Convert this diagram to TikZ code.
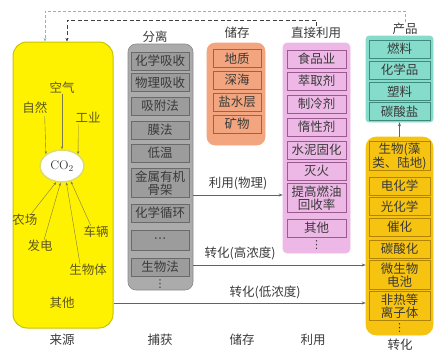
\documentclass[tikz,border=0pt]{standalone}
\usepackage{fontspec}
\setmainfont{Noto Sans CJK SC}
\newfontfamily\symfont{DejaVu Sans}
\usetikzlibrary{arrows.meta,shapes.geometric}
\definecolor{yfill}{HTML}{FFF200}
\definecolor{yline}{HTML}{C9C300}
\definecolor{gfill}{HTML}{ABABAB}
\definecolor{gitemc}{HTML}{9C9C9C}
\definecolor{gline}{HTML}{6A6A6A}
\definecolor{ofill}{HTML}{F2A57E}
\definecolor{oline}{HTML}{A8603A}
\definecolor{pfill}{HTML}{EDB8E6}
\definecolor{pline}{HTML}{9A5A90}
\definecolor{tfill}{HTML}{86DCCB}
\definecolor{tline}{HTML}{3E8A7C}
\definecolor{ufill}{HTML}{F6C310}
\definecolor{uline}{HTML}{B08400}
\definecolor{txt}{HTML}{3A3A3A}
\definecolor{olive}{HTML}{5E5820}
\definecolor{arr}{HTML}{55667A}
\definecolor{gdash}{HTML}{7CC49A}
\begin{document}
\begin{tikzpicture}[x=1pt,y=-1pt,
  font=\fontsize{12.5}{13}\selectfont,
  every node/.style={inner sep=0pt, text=txt},
  bigbox/.style={rounded corners=8pt, line width=0.6pt},
  item/.style={draw, line width=0.7pt, minimum height=18pt, align=center},
  gitem/.style={item, fill=gitemc, draw=gline, minimum width=58pt},
  oitem/.style={item, fill=ofill, draw=oline, minimum width=48pt},
  pitem/.style={item, fill=pfill, draw=pline, minimum width=59pt},
  titem/.style={item, fill=tfill, draw=tline, minimum width=61pt},
  uitem/.style={item, fill=ufill, draw=uline, minimum width=61pt},
  twoline/.style={minimum height=29pt, font=\fontsize{12.5}{12.5}\selectfont},
  dotsnode/.style={font=\symfont\fontsize{11}{11}\selectfont},
  src/.style={text=olive},
  srcarrow/.style={draw=olive!80, line width=0.4pt, -{Stealth[length=3pt,width=2.4pt]}},
  flow/.style={draw=arr, line width=0.6pt, -{Stealth[length=4pt,width=3pt]}},
  lab/.style={text=txt}
]
\useasboundingbox (0,0) rectangle (437,351);
% big boxes
\node[bigbox, rounded corners=14pt, fill=yfill, draw=yline, line width=1pt, minimum width=100pt, minimum height=286pt] (ybox) at (63,185) {};
\node[bigbox, fill=gfill, draw=gfill!80!black, minimum width=65pt, minimum height=246pt] (gbox) at (160.5,167) {};
\node[bigbox, fill=ofill, draw=ofill, minimum width=58pt, minimum height=102pt] (obox) at (236,94) {};
\node[bigbox, rounded corners=4pt, fill=pfill, draw=pfill, minimum width=67pt, minimum height=210pt] (pbox) at (316.5,148) {};
\node[bigbox, rounded corners=3pt, fill=tfill, draw=tfill, minimum width=67pt, minimum height=86pt] (tbox) at (399.5,79) {};
\node[bigbox, rounded corners=10pt, fill=ufill, draw=ufill, minimum width=67pt, minimum height=198pt] (ubox) at (399.5,236) {};
% titles
\node (tsep) at (155,37) {分离};
\node (tsto) at (237,33) {储存};
\node (tdir) at (316,33) {直接利用};
\node (tpro) at (405,29) {产品};
% gray items
\node[gitem] (g1) at (160,61) {化学吸收};
\node[gitem] (g2) at (160,82.5) {物理吸收};
\node[gitem] (g3) at (160,106) {吸附法};
\node[gitem] (g4) at (160,130) {膜法};
\node[gitem] (g5) at (160,153) {低温};
\node[gitem, twoline] (g6) at (160,183) {金属有机\\骨架};
\node[gitem] (g7) at (160,213) {化学循环};
\node[gitem, minimum height=20pt] (g8) at (160,240) {{\symfont ⋯}};
\node[gitem] (g9) at (160,267) {生物法};
\node[dotsnode] (gdots) at (160,284.5) {⋮};
% orange items
\node[oitem] (o1) at (237,58.5) {地质};
\node[oitem] (o2) at (237,80) {深海};
\node[oitem] (o3) at (237,102) {盐水层};
\node[oitem] (o4) at (237,124) {矿物};
% pink items
\node[pitem] (p1) at (316.5,59) {食品业};
\node[pitem] (p2) at (316.5,81) {萃取剂};
\node[pitem] (p3) at (316.5,104) {制冷剂};
\node[pitem] (p4) at (316.5,127) {惰性剂};
\node[pitem] (p5) at (316.5,150) {水泥固化};
\node[pitem] (p6) at (316.5,171) {灭火};
\node[pitem, twoline] (p7) at (316.5,198) {提高燃油\\回收率};
\node[pitem] (p8) at (316.5,228) {其他};
\node[dotsnode] (pdots) at (316.5,245) {⋮};
% teal items
\node[titem] (t1) at (399.5,49) {燃料};
\node[titem] (t2) at (399.5,70) {化学品};
\node[titem] (t3) at (399.5,91.5) {塑料};
\node[titem] (t4) at (399.5,111.5) {碳酸盐};
% gold items
\node[uitem, twoline] (u1) at (399.5,156) {生物(藻\\类、陆地)};
\node[uitem] (u2) at (399.5,186) {电化学};
\node[uitem] (u3) at (399.5,206.5) {光化学};
\node[uitem] (u4) at (399.5,227) {催化};
\node[uitem] (u5) at (399.5,249) {碳酸化};
\node[uitem, twoline] (u6) at (399.5,275) {微生物\\电池};
\node[uitem, twoline] (u7) at (399.5,306) {非热等\\离子体};
\node[dotsnode] (udots) at (399.5,328) {⋮};
\draw[flow] (ubox.north -| u1) -- (tbox.south -| t4);
% source box content
\node[draw=yline!60!white, line width=1.5pt, fill=white, ellipse, minimum width=44pt, minimum height=32pt] (co2) at (62,166) {\fontspec{Latin Modern Roman}CO$_2$};
\node[src] (air) at (62,88) {空气};
\node[src] (nat) at (35,108) {自然};
\node[src] (ind) at (88,117) {工业};
\node[src] (farm) at (25,220) {农场};
\node[src] (pow) at (40,246) {发电};
\node[src] (veh) at (96,232) {车辆};
\node[src] (bio) at (88,270) {生物体};
\node[src] (oth) at (62,303) {其他};
\draw[srcarrow] (air.south) -- (co2.north);
\draw[srcarrow] (nat.south east) ++(-3,2) -- (co2.north west);
\draw[srcarrow] (ind.south west) ++(3,2) -- (co2.north east);
\draw[srcarrow] (farm.north) ++(6,0) -- (co2.250);
\draw[srcarrow] (pow.north) ++(4,0) -- (co2.265);
\draw[srcarrow] (bio.north) ++(-8,0) -- (co2.285);
\draw[srcarrow] (veh.north) ++(-5,0) -- (co2.300);
% flows
\draw[flow] (gbox.east |- 0,195) -- node[above=5pt, lab] (lphy) {利用(物理)} (pbox.west |- 0,195);
\draw[flow] (gbox.east |- 0,265) -- (ubox.west |- 0,265);
\node[lab] (lhigh) at (240,253) {转化(高浓度)};
\draw[flow] (ybox.east |- 0,303) -- (ubox.west |- 0,303);
\node[lab] (llow) at (265,292) {转化(低浓度)};
% feedback dashed
\draw[black!75, line width=0.7pt, dash pattern=on 4pt off 2.5pt, -{Stealth[length=3.5pt,width=3pt]}] (tdir.north) ++(0,-1) |- (67,20) -- (ybox.north -| 67,0);
\draw[gdash, line width=0.8pt, dash pattern=on 3pt off 2pt, -{Stealth[length=3.5pt,width=3pt]}] (tpro.north) ++(0,-1) |- (45,11) -- (ybox.north -| 45,0);
% bottom labels
\node (b1) at (62,340) {来源};
\node (b2) at (160,340) {捕获};
\node (b3) at (242,340) {储存};
\node (b4) at (313,340) {利用};
\node (b5) at (400,345) {转化};
\end{tikzpicture}
\end{document}
